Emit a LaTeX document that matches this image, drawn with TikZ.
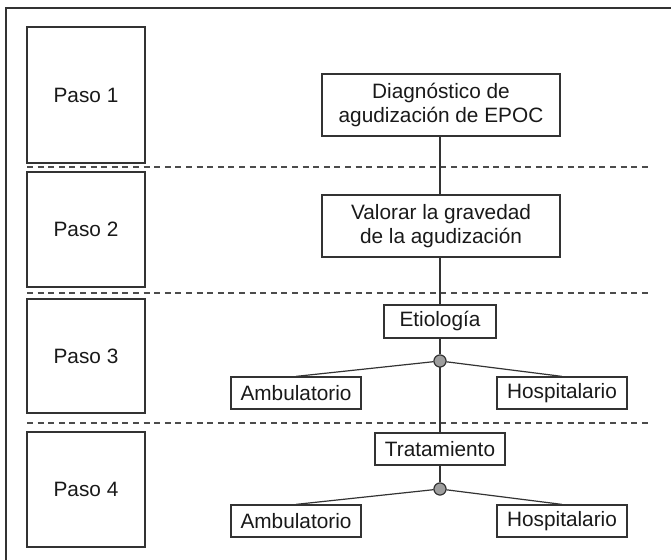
\documentclass[tikz,border=0pt]{standalone}
\usepackage{fontspec}
\setmainfont{Liberation Sans}
\definecolor{linea}{rgb}{0.2,0.2,0.2}
\definecolor{punto}{rgb}{0.62,0.62,0.62}

\begin{document}
\begin{tikzpicture}[x=0.5pt, y=-0.5pt,
        every node/.style={font=\fontsize{10.4}{11.7}\selectfont, text=black!90},
        pasobox/.style={draw=linea, line width=0.6pt, minimum width=59pt, inner sep=0pt},
        flujobox/.style={draw=linea, line width=0.6pt, inner sep=0pt, align=center},
        nodopunto/.style={circle, draw=linea, fill=punto, line width=0.5pt, minimum size=6pt, inner sep=0pt},
        separador/.style={gray!60!black, line width=0.6pt, dash pattern=on 3pt off 2.3pt},
        conector/.style={linea, line width=0.6pt}] %4 pasos
            \clip (0,0) rectangle (671,560);
            \draw[linea, line width=0.9pt] (6,8) rectangle (690,580);

            \node[pasobox, minimum height=68pt] (paso1) at (86,95) {Paso 1};
            \node[pasobox, minimum height=57.5pt] (paso2) at (86,229.5) {Paso 2};
            \node[pasobox, minimum height=57pt] (paso3) at (86,356) {Paso 3};
            \node[pasobox, minimum height=57.5pt] (paso4) at (86,489.5) {Paso 4};

            \draw[separador] (27,167) -- (651,167);
            \draw[separador] (27,293) -- (651,293);
            \draw[separador] (27,423) -- (651,423);

            \node[flujobox, minimum width=119pt, minimum height=31pt] (diag) at (441,105) {Diagnóstico de\\agudización de EPOC};
            \node[flujobox, minimum width=119pt, minimum height=31pt] (valorar) at (441,226) {Valorar la gravedad\\de la agudización};
            \node[flujobox, minimum width=56pt, minimum height=16.5pt] (etio) at (440,321.5) {Etiología};
            \node[nodopunto] (nodo1) at (440,361) {};
            \node[flujobox, minimum width=65pt, minimum height=16pt] (amb1) at (296,393) {Ambulatorio};
            \node[flujobox, minimum width=65pt, minimum height=16pt] (hosp1) at (562,393) {Hospitalario};
            \node[flujobox, minimum width=65pt, minimum height=16pt] (trat) at (440,449) {Tratamiento};
            \node[nodopunto] (nodo2) at (440,489) {};
            \node[flujobox, minimum width=65pt, minimum height=16pt] (amb2) at (296,521) {Ambulatorio};
            \node[flujobox, minimum width=65pt, minimum height=16pt] (hosp2) at (562,521) {Hospitalario};

            \draw[conector] (diag.south -| nodo1) -- (valorar.north -| nodo1);
            \draw[conector] (valorar.south -| nodo1) -- (etio.north);
            \draw[conector] (etio.south) -- (nodo1);
            \draw[conector] (nodo1) -- (trat.north);
            \draw[conector] (trat.south) -- (nodo2);
            \draw[conector] (nodo1) -- (amb1.north);
            \draw[conector] (nodo1) -- (hosp1.north);
            \draw[conector] (nodo2) -- (amb2.north);
            \draw[conector] (nodo2) -- (hosp2.north);
            \node[nodopunto] at (nodo1) {};
            \node[nodopunto] at (nodo2) {};
        \end{tikzpicture}
\end{document}
